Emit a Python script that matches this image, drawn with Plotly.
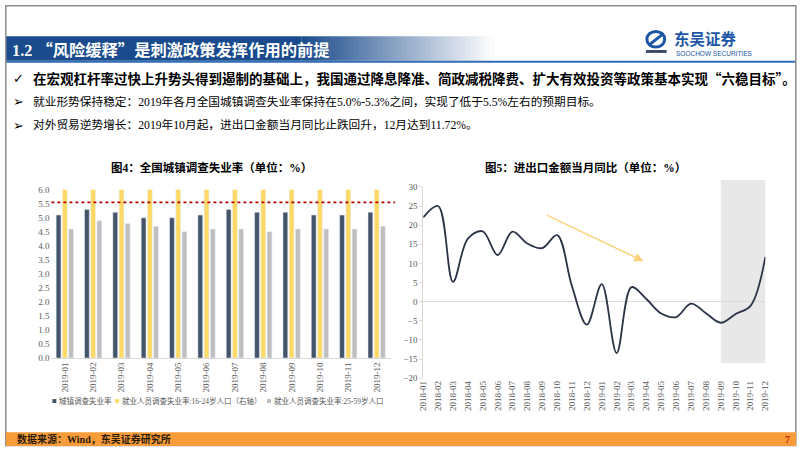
import plotly.graph_objects as go

W, H = 802, 451
def X(px): return px / W
def Y(py): return 1 - py / H

# ---------------- data ----------------
months_2019 = ["2019-01", "2019-02", "2019-03", "2019-04", "2019-05", "2019-06",
               "2019-07", "2019-08", "2019-09", "2019-10", "2019-11", "2019-12"]
urban_rate = [5.1, 5.3, 5.2, 5.0, 5.0, 5.1, 5.3, 5.2, 5.2, 5.1, 5.1, 5.2]
youth_rate = [10.5, 11.2, 11.7, 10.6, 10.2, 11.6, 12.9, 12.6, 11.7, 11.2, 11.6, 12.2]
prime_rate = [4.6, 4.9, 4.8, 4.7, 4.5, 4.6, 4.6, 4.5, 4.6, 4.6, 4.6, 4.7]
target_rate = 5.55

months_trade = ["2018-01", "2018-02", "2018-03", "2018-04", "2018-05", "2018-06",
                "2018-07", "2018-08", "2018-09", "2018-10", "2018-11", "2018-12",
                "2019-01", "2019-02", "2019-03", "2019-04", "2019-05", "2019-06",
                "2019-07", "2019-08", "2019-09", "2019-10", "2019-11", "2019-12"]
trade_yoy = [22.0, 25.0, 5.2, 16.5, 18.4, 12.2, 18.3, 15.2, 14.0, 17.4, 4.0, -6.0,
             4.6, -13.4, 3.8, 0.7, -3.1, -4.0, -0.5, -3.0, -5.5, -3.2, -1.1, 11.7]

legend_names = ["城镇调查失业率", "就业人员调查失业率:16-24岁人口（右轴）", "就业人员调查失业率:25-59岁人口"]
bar_colors = ["#44546A", "#FFD966", "#BFBFBF"]

SERIF = "Liberation Serif, Noto Sans CJK SC"
CJK = "Noto Sans CJK SC"
TICK_GRAY = "#595959"

fig = go.Figure()

# ---------------- left chart: bars ----------------
bw = 0.17
fig.add_trace(go.Bar(x=months_2019, y=urban_rate, name=legend_names[0],
                     marker_color=bar_colors[0], width=bw, offset=-0.22 - bw / 2,
                     xaxis="x", yaxis="y", showlegend=False))
fig.add_trace(go.Bar(x=months_2019, y=youth_rate, name=legend_names[1],
                     marker_color=bar_colors[1], width=bw, offset=0.0 - bw / 2,
                     xaxis="x", yaxis="y2", showlegend=False))
fig.add_trace(go.Bar(x=months_2019, y=prime_rate, name=legend_names[2],
                     marker_color=bar_colors[2], width=bw, offset=0.22 - bw / 2,
                     xaxis="x", yaxis="y", showlegend=False))

# ---------------- right chart: line ----------------
fig.add_trace(go.Scatter(x=months_trade, y=trade_yoy, mode="lines",
                         line=dict(color="#2B3447", width=1.8, shape="spline", smoothing=1.0),
                         xaxis="x3", yaxis="y3", showlegend=False))

shapes = []
annotations = []

# slide border
shapes.append(dict(type="rect", xref="paper", yref="paper", x0=X(0.8), x1=X(800.8), y0=Y(450.5), y1=Y(0.8),
                   line=dict(color="#8C8C8C", width=1.5), fillcolor="rgba(0,0,0,0)", layer="above"))

# title bar with gradient
bar_top, bar_bot = 32, 57
base = (26, 75, 140)
shapes.append(dict(type="rect", xref="paper", yref="paper", x0=X(1), x1=X(300), y0=Y(bar_bot), y1=Y(bar_top),
                   line=dict(width=0), fillcolor="rgb(%d,%d,%d)" % base, layer="below"))
N = 40
g0, g1 = 300, 495
for i in range(N):
    t = (i + 0.5) / N
    c = tuple(int(base[k] + (255 - base[k]) * t) for k in range(3))
    xa = g0 + (g1 - g0) * i / N
    xb = g0 + (g1 - g0) * (i + 1) / N + 0.6
    shapes.append(dict(type="rect", xref="paper", yref="paper", x0=X(xa), x1=X(xb), y0=Y(bar_bot), y1=Y(bar_top),
                       line=dict(width=0), fillcolor="rgb(%d,%d,%d)" % c, layer="below"))
shapes.append(dict(type="rect", xref="paper", yref="paper", x0=X(1), x1=X(800), y0=Y(59), y1=Y(57),
                   line=dict(width=0), fillcolor="#2F6DB5", layer="below"))

q = '<span style="font-family:Noto Sans CJK SC">%s</span>'
annotations.append(dict(xref="paper", yref="paper", x=X(5), y=Y(45), xanchor="left", yanchor="middle",
                        text="<b>1.2 " + q % "“" + "风险缓释" + q % "”" + "是刺激政策发挥作用的前提</b>",
                        showarrow=False, font=dict(family=SERIF, size=16.3, color="white")))

# logo
shapes.append(dict(type="circle", xref="paper", yref="paper", x0=X(650), x1=X(668), y0=Y(43), y1=Y(27),
                   line=dict(color="#1D56A5", width=3), fillcolor="rgba(0,0,0,0)"))
shapes.append(dict(type="line", xref="paper", yref="paper", x0=X(652), x1=X(667), y0=Y(41), y1=Y(29),
                   line=dict(color="#1D56A5", width=3)))
shapes.append(dict(type="rect", xref="paper", yref="paper", x0=X(649), x1=X(670), y0=Y(49), y1=Y(46),
                   line=dict(width=0), fillcolor="#3A4A6A"))
annotations.append(dict(xref="paper", yref="paper", x=X(675), y=Y(33.5), xanchor="left", yanchor="middle",
                        text="<b>东吴证券</b>", showarrow=False,
                        font=dict(family=CJK, size=15.5, color="#1D56A5")))
annotations.append(dict(xref="paper", yref="paper", x=X(677), y=Y(49.5), xanchor="left", yanchor="middle",
                        text="SOOCHOW SECURITIES", showarrow=False,
                        font=dict(family="Liberation Sans", size=6.5, color="#1D56A5")))

# bullet text
annotations.append(dict(xref="paper", yref="paper", x=X(6), y=Y(75), xanchor="left", yanchor="middle",
                        text="<b>✓</b>", showarrow=False, font=dict(family="DejaVu Sans", size=13, color="black")))
annotations.append(dict(xref="paper", yref="paper", x=X(26), y=Y(75), xanchor="left", yanchor="middle",
                        text="<b>在宏观杠杆率过快上升势头得到遏制的基础上，我国通过降息降准、简政减税降费、扩大有效投资等政策基本实现“六稳目标”。</b>",
                        showarrow=False, font=dict(family=CJK, size=13.5, color="black")))
for yy, txt in [(99, "就业形势保持稳定：2019年各月全国城镇调查失业率保持在5.0%-5.3%之间，实现了低于5.5%左右的预期目标。"),
                (123, "对外贸易逆势增长：2019年10月起，进出口金额当月同比止跌回升，12月达到11.72%。")]:
    annotations.append(dict(xref="paper", yref="paper", x=X(6), y=Y(yy), xanchor="left", yanchor="middle",
                            text="➢", showarrow=False, font=dict(family="DejaVu Sans", size=13, color="black")))
    annotations.append(dict(xref="paper", yref="paper", x=X(26), y=Y(yy), xanchor="left", yanchor="middle",
                            text=txt, showarrow=False, font=dict(family=SERIF, size=11.7, color="black")))

# chart titles
annotations.append(dict(xref="paper", yref="paper", x=X(209), y=Y(166), xanchor="center", yanchor="middle",
                        text="<b>图4：全国城镇调查失业率（单位：%）</b>", showarrow=False,
                        font=dict(family=SERIF, size=11.5, color="black")))
annotations.append(dict(xref="paper", yref="paper", x=X(588), y=Y(166), xanchor="center", yanchor="middle",
                        text="<b>图5：进出口金额当月同比（单位：%）</b>", showarrow=False,
                        font=dict(family=SERIF, size=11.5, color="black")))

# target dotted line
shapes.append(dict(type="line", xref="paper", yref="y", x0=X(47), x1=X(395), y0=target_rate, y1=target_rate,
                   line=dict(color="#B00000", width=1.6, dash="dot"), layer="above"))

# manual legend for left chart
leg_y = 405
lx = 48
for name, col in zip(legend_names, bar_colors):
    shapes.append(dict(type="rect", xref="paper", yref="paper", x0=X(lx), x1=X(lx + 4), y0=Y(leg_y + 2), y1=Y(leg_y - 2),
                       line=dict(width=0), fillcolor=col))
    annotations.append(dict(xref="paper", yref="paper", x=X(lx + 5), y=Y(leg_y), xanchor="left", yanchor="middle",
                            text=name, showarrow=False, font=dict(family=SERIF, size=7.5, color=TICK_GRAY)))
    n_cjk = sum(1 for ch in name if ord(ch) > 0x2000)
    n_ascii = len(name) - n_cjk
    lx = lx + 5 + n_cjk * 7.5 + n_ascii * 3.8 + 6

# shaded region on right chart
shapes.append(dict(type="rect", xref="x3", yref="paper", x0=20, x1=23, y0=Y(366), y1=Y(179),
                   line=dict(width=0), fillcolor="#E8E8E8", layer="below"))

# arrow on right chart
annotations.append(dict(xref="x3", yref="y3", axref="x3", ayref="y3", x=14.8, y=10.6, ax=8.2, ay=22.8,
                        text="", showarrow=True, arrowhead=2, arrowsize=1.2, arrowwidth=1.5,
                        arrowcolor="#F9D37A"))

# footer
shapes.append(dict(type="rect", xref="paper", yref="paper", x0=X(1), x1=X(801), y0=Y(451), y1=Y(437),
                   line=dict(width=0), fillcolor="#F89C3A"))
annotations.append(dict(xref="paper", yref="paper", x=X(10), y=Y(444), xanchor="left", yanchor="middle",
                        text="<b>数据来源：Wind，东吴证券研究所</b>", showarrow=False,
                        font=dict(family=SERIF, size=10, color="#2A1A0A")))
annotations.append(dict(xref="paper", yref="paper", x=X(792), y=Y(444), xanchor="center", yanchor="middle",
                        text="<b>7</b>", showarrow=False, font=dict(family=SERIF, size=10, color="#C62A00")))

tickfont = dict(family=SERIF, size=9, color=TICK_GRAY)

fig.update_layout(
    width=W, height=H, margin=dict(l=0, r=0, t=0, b=0),
    paper_bgcolor="white", plot_bgcolor="rgba(0,0,0,0)",
    barmode="overlay",
    xaxis=dict(domain=[X(46.2), X(390.7)], type="category", tickangle=-90, tickfont=tickfont,
               showline=True, linecolor="#D9D9D9", linewidth=1, ticks="", showgrid=False, anchor="y"),
    yaxis=dict(domain=[Y(361), Y(189)], range=[0, 6], dtick=0.5, tickformat=".1f", tickfont=tickfont,
               showgrid=False, zeroline=False, showline=False, anchor="x"),
    yaxis2=dict(overlaying="y", range=[0, 6], visible=False, anchor="x"),
    xaxis3=dict(domain=[X(423.5), X(770)], type="category", range=[0, 23], tickangle=-90, tickfont=tickfont,
                showline=False, ticks="", showgrid=False, anchor="y3"),
    yaxis3=dict(domain=[Y(381.7), Y(186)], range=[-20, 30], dtick=5, tickfont=tickfont,
                showgrid=False, zeroline=True, zerolinecolor="#D9D9D9", zerolinewidth=1,
                showline=True, linecolor="#D9D9D9", ticks="outside", ticklen=3, tickcolor="#D9D9D9",
                anchor="x3"),
    shapes=shapes, annotations=annotations, showlegend=False,
)

fig.write_html("out.html")
